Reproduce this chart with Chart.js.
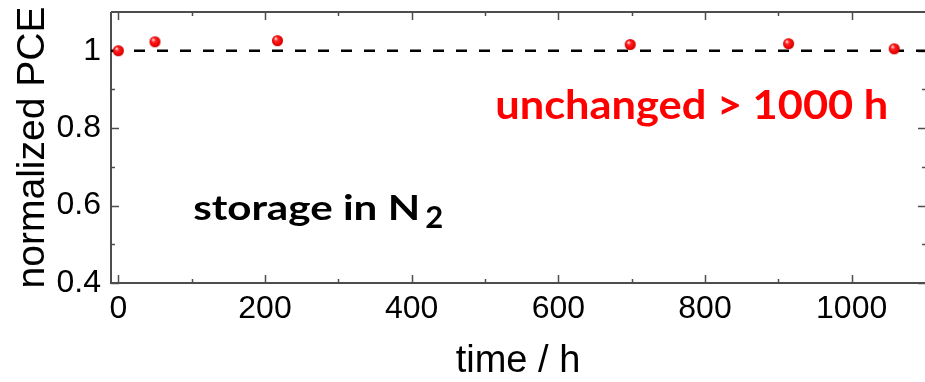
<!DOCTYPE html>
<html>
<head>
<meta charset="utf-8">
<script src="https://cdn.jsdelivr.net/npm/chart.js@4.4.1/dist/chart.umd.min.js"></script>
<style>
  html, body { margin: 0; padding: 0; background: #fff; }
  #wrap { width: 925px; height: 382px; }
</style>
</head>
<body>
<div id="wrap"><canvas id="pceChart"></canvas></div>
<script>
// storage time (h) and normalized PCE of the device kept in N2
const storageHours = [0, 50, 217, 698, 914, 1058];
const normalizedPce = [1.000, 1.023, 1.026, 1.016, 1.018, 1.005];

// reference level (initial PCE)
const referenceLevel = 1;
const referenceSpan = [-10, 1100];

const xTicks = [0, 200, 400, 600, 800, 1000];
const xMinorTicks = [100, 300, 500, 700, 900];
const yTicks = [0.4, 0.6, 0.8, 1];
const yMinorTicks = [0.5, 0.7, 0.9];

const axisFont = "Arial, 'Liberation Sans', sans-serif";
const noteFont = "Lato, 'Open Sans', sans-serif";
const axisColor = '#4d4d4d';

// shaded red ball used as the marker
function makeBall(r) {
    const c = document.createElement('canvas');
    c.width = c.height = r * 2 + 2;
    const g = c.getContext('2d');
    const cx = r + 1, cy = r + 1;
    const grad = g.createRadialGradient(cx - r * 0.35, cy - r * 0.4, r * 0.1, cx, cy, r);
    grad.addColorStop(0, '#ffd8d8');
    grad.addColorStop(0.3, '#ff2424');
    grad.addColorStop(0.8, '#f00000');
    grad.addColorStop(1, '#b80000');
    g.fillStyle = grad;
    g.beginPath();
    g.arc(cx, cy, r, 0, Math.PI * 2);
    g.fill();
    return c;
}

// frame with inward ticks on every side
const framePlugin = {
    id: 'frame',
    beforeDatasetsDraw(chart) {
        const {ctx, chartArea: a, scales: {x, y}} = chart;
        ctx.save();
        ctx.strokeStyle = axisColor;
        ctx.lineWidth = 2;
        ctx.beginPath();
        ctx.moveTo(a.left, a.top);
        ctx.lineTo(a.right, a.top);
        ctx.moveTo(a.left, a.top);
        ctx.lineTo(a.left, a.bottom);
        ctx.lineTo(a.right, a.bottom);
        ctx.stroke();

        ctx.lineWidth = 1.5;
        ctx.beginPath();
        const xMark = (v, len) => {
            const px = Math.round(x.getPixelForValue(v)) + 0.5;
            ctx.moveTo(px, a.bottom);
            ctx.lineTo(px, a.bottom - len);
            ctx.moveTo(px, a.top);
            ctx.lineTo(px, a.top + len);
        };
        const yMark = (v, len) => {
            const py = Math.round(y.getPixelForValue(v)) + 0.5;
            ctx.moveTo(a.left, py);
            ctx.lineTo(a.left + len, py);
            ctx.moveTo(a.right + 1, py);
            ctx.lineTo(a.right + 1 - len, py);
        };
        xTicks.forEach(v => xMark(v, 8));
        xMinorTicks.forEach(v => xMark(v, 4));
        yTicks.forEach(v => yMark(v, 8));
        yMinorTicks.forEach(v => yMark(v, 4));
        ctx.stroke();
        ctx.restore();
    }
};

// text notes inside the plot (x, y in data units at the text baseline)
const notes = [
    {text: 'unchanged > 1000 h', x: 514, y: 0.8232, color: '#ff0000', size: 41, width: 393},
    {text: 'storage in N', sub: '2', x: 102, y: 0.5627, color: '#000000', size: 34, width: 227}
];

const notesPlugin = {
    id: 'notes',
    afterDraw(chart) {
        const {ctx, scales: {x, y}} = chart;
        ctx.save();
        ctx.textBaseline = 'alphabetic';
        notes.forEach(n => {
            const px = x.getPixelForValue(n.x);
            const py = y.getPixelForValue(n.y);
            ctx.font = `bold ${n.size}px ${noteFont}`;
            const w = ctx.measureText(n.text).width;
            ctx.fillStyle = n.color;
            ctx.save();
            ctx.translate(px, py);
            ctx.scale(n.width / w, 1);
            ctx.fillText(n.text, 0, 0);
            ctx.restore();
            if (n.sub) {
                ctx.font = `bold ${Math.round(n.size * 0.9)}px ${noteFont}`;
                ctx.fillText(n.sub, px + n.width + 5, py + 8);
            }
        });
        ctx.restore();
    }
};

const ctx = document.getElementById('pceChart').getContext('2d');
const chart = new Chart(ctx, {
    type: 'scatter',
    data: {
        datasets: [{
            label: 'normalized PCE',
            data: storageHours.map((h, i) => ({x: h, y: normalizedPce[i]})),
            pointStyle: makeBall(5.5),
            pointRadius: 6,
            showLine: false,
            order: 1
        }, {
            label: 'reference',
            data: referenceSpan.map(h => ({x: h, y: referenceLevel})),
            showLine: true,
            borderColor: '#000',
            borderWidth: 2.5,
            borderDash: [11, 12],
            pointRadius: 0,
            order: 2
        }]
    },
    options: {
        responsive: true,
        maintainAspectRatio: false,
        animation: false,
        layout: {autoPadding: false, padding: {top: 12, right: 0, left: 0, bottom: 0}},
        plugins: {
            legend: {display: false},
            tooltip: {enabled: false}
        },
        scales: {
            x: {
                type: 'linear',
                min: -10,
                max: 1100,
                afterBuildTicks: s => { s.ticks = xTicks.map(v => ({value: v})); },
                afterFit: s => {
                    s.height = 99;
                    s.paddingLeft = 0;
                    s.paddingRight = 0;
                },
                grid: {display: false, drawTicks: false},
                border: {display: false},
                ticks: {
                    padding: 7,
                    color: '#000',
                    font: {family: axisFont, size: 32},
                    callback: v => String(v)
                },
                title: {
                    display: true,
                    text: 'time / h',
                    color: '#000',
                    padding: {top: 0, bottom: 0},
                    font: {family: axisFont, size: 38, lineHeight: 1.1}
                }
            },
            y: {
                min: 0.4,
                max: 1.1,
                afterBuildTicks: s => { s.ticks = yTicks.map(v => ({value: v})); },
                afterFit: s => {
                    s.width = 111;
                    s.paddingTop = 0;
                    s.paddingBottom = 0;
                },
                grid: {display: false, drawTicks: false},
                border: {display: false},
                ticks: {
                    padding: 10,
                    color: '#000',
                    font: {family: axisFont, size: 32},
                    callback: v => (v === 1 ? '1' : v.toFixed(1))
                },
                title: {
                    display: true,
                    text: 'normalized PCE',
                    color: '#000',
                    padding: {top: 10, bottom: 0},
                    font: {family: axisFont, size: 39, lineHeight: 1.2}
                }
            }
        }
    },
    plugins: [framePlugin, notesPlugin]
});
</script>
</body>
</html>
